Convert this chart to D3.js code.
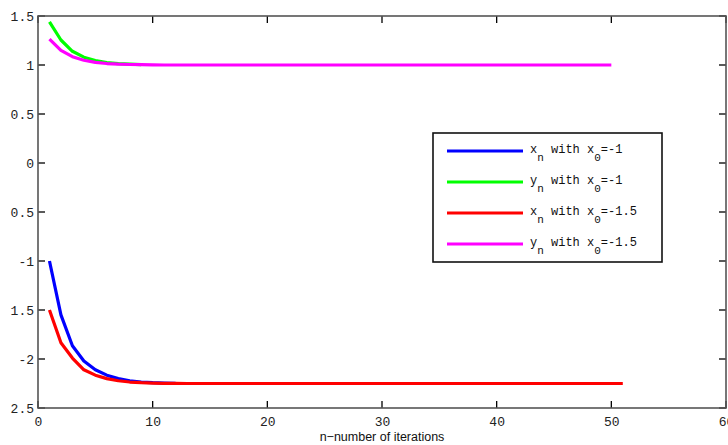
<!DOCTYPE html>
<html>
<head>
<meta charset="utf-8">
<script src="https://cdn.jsdelivr.net/npm/d3@7/dist/d3.min.js"></script>
<style>
  html, body { margin: 0; padding: 0; background: #fff; }
  svg { display: block; }
</style>
</head>
<body>
<svg id="chart" width="728" height="445"></svg>
<script>
// ---- data ----
const xnA = [-1, -1.55, -1.865, -2.02, -2.11, -2.165, -2.2, -2.222, -2.235, -2.242, -2.246, -2.248];
const ynA = [1.44, 1.255, 1.14, 1.08, 1.045, 1.025, 1.014, 1.008, 1.004];
const xnB = [-1.5, -1.835, -1.99, -2.11, -2.165, -2.2, -2.222, -2.235, -2.242, -2.246, -2.248, -2.249,
  -2.25, -2.25, -2.25, -2.25, -2.25, -2.25, -2.25, -2.25, -2.25, -2.25, -2.25, -2.25, -2.25, -2.25,
  -2.25, -2.25, -2.25, -2.25, -2.25, -2.25, -2.25, -2.25, -2.25, -2.25, -2.25, -2.25, -2.25, -2.25,
  -2.25, -2.25, -2.25, -2.25, -2.25, -2.25, -2.25, -2.25, -2.25, -2.25, -2.25];
const ynB = [1.265, 1.15, 1.085, 1.048, 1.027, 1.015, 1.008, 1.005, 1.003, 1.001,
  1, 1, 1, 1, 1, 1, 1, 1, 1, 1, 1, 1, 1, 1, 1, 1, 1, 1, 1, 1,
  1, 1, 1, 1, 1, 1, 1, 1, 1, 1, 1, 1, 1, 1, 1, 1, 1, 1, 1, 1];
const seriesNames = [["x", "n", " with x", "0", "=-1"], ["y", "n", " with x", "0", "=-1"],
                     ["x", "n", " with x", "0", "=-1.5"], ["y", "n", " with x", "0", "=-1.5"]];
const seriesColors = ["#0000ff", "#00ff00", "#ff0000", "#ff00ff"];
const xTicks = [0, 10, 20, 30, 40, 50, 60];
const xTickLabels = ["0", "10", "20", "30", "40", "50", "60"];
const yTicks = [-2.5, -2, -1.5, -1, -0.5, 0, 0.5, 1, 1.5];
const yTickLabels = ["2.5", "-2", "1.5", "-1", "0.5", "0", "0.5", "1", "1.5"];
const xLabel = "n\u2212number of iterations";

// ---- layout ----
const svg = d3.select("#chart");
const L = 38, R = 726, T = 16, B = 408;
const x = d3.scaleLinear().domain([0, 60]).range([L, R]);
const y = d3.scaleLinear().domain([-2.5, 1.5]).range([B, T]);

const series = [xnA, ynA, xnB, ynB];
const line = d3.line().x((d, i) => x(i + 1)).y(d => y(d));

// draw order: green, magenta first then blue, red? keep natural order
const drawOrder = [1, 3, 0, 2];
const clip = svg.append("defs").append("clipPath").attr("id", "clip")
  .append("rect").attr("x", L).attr("y", T).attr("width", R - L).attr("height", B - T);
const plot = svg.append("g").attr("clip-path", "url(#clip)");
drawOrder.forEach(k => {
  plot.append("path").datum(series[k])
    .attr("d", line)
    .attr("fill", "none")
    .attr("stroke", seriesColors[k])
    .attr("stroke-width", 3.2)
    .attr("stroke-linejoin", "round");
});

// axes
const tickLen = 7;
const xAxisB = d3.axisBottom(x).tickValues(xTicks).tickSize(0).tickPadding(0).tickFormat((d, i) => xTickLabels[i]);
const gx = svg.append("g").attr("transform", `translate(0,${B})`).call(xAxisB);
gx.select(".domain").remove();
gx.selectAll("text").attr("y", 18).attr("dy", 0)
  .style("font-family", "'Liberation Mono', monospace").style("font-size", "13px").attr("fill", "#222");

const yAxisL = d3.axisLeft(y).tickValues(yTicks).tickSize(0).tickPadding(4).tickFormat((d, i) => yTickLabels[i]);
const gy = svg.append("g").attr("transform", `translate(${L},0)`).call(yAxisL);
gy.select(".domain").remove();
gy.selectAll("text").attr("dy", "0.35em")
  .style("font-family", "'Liberation Mono', monospace").style("font-size", "13px").attr("fill", "#222");

// inward ticks on all four sides
const tg = svg.append("g").attr("stroke", "#000").attr("stroke-width", 1.3);
xTicks.forEach(t => {
  tg.append("line").attr("x1", x(t)).attr("x2", x(t)).attr("y1", B).attr("y2", B - tickLen);
  tg.append("line").attr("x1", x(t)).attr("x2", x(t)).attr("y1", T).attr("y2", T + tickLen);
});
yTicks.forEach(t => {
  tg.append("line").attr("x1", L).attr("x2", L + tickLen).attr("y1", y(t)).attr("y2", y(t));
  tg.append("line").attr("x1", R).attr("x2", R - tickLen).attr("y1", y(t)).attr("y2", y(t));
});

// box
svg.append("rect").attr("x", L).attr("y", T).attr("width", R - L).attr("height", B - T)
  .attr("fill", "none").attr("stroke", "#555").attr("stroke-width", 1.6);

// x label
svg.append("text").attr("x", 382).attr("y", 441).attr("text-anchor", "middle")
  .style("font-family", "'Liberation Sans', Arial, sans-serif").style("font-size", "12.5px")
  .attr("fill", "#111").text(xLabel);

// legend
const lg = svg.append("g");
lg.append("rect").attr("x", 433).attr("y", 133).attr("width", 229).attr("height", 129)
  .attr("fill", "#fff").attr("stroke", "#111").attr("stroke-width", 1.6);
const legY = [151, 182, 213, 244];
seriesNames.forEach((parts, k) => {
  lg.append("line").attr("x1", 447).attr("x2", 523).attr("y1", legY[k]).attr("y2", legY[k])
    .attr("stroke", seriesColors[k]).attr("stroke-width", 3.2);
  const t = lg.append("text").attr("x", 530).attr("y", legY[k] + 2)
    .style("font-family", "'Liberation Mono', monospace").style("font-size", "12px").attr("fill", "#111");
  t.append("tspan").text(parts[0]);
  t.append("tspan").attr("dy", 8).style("font-size", "11px").text(parts[1]);
  t.append("tspan").attr("dy", -8).text(parts[2]);
  t.append("tspan").attr("dy", 8).style("font-size", "11px").text(parts[3]);
  t.append("tspan").attr("dy", -8).text(parts[4]);
});
</script>
</body>
</html>
